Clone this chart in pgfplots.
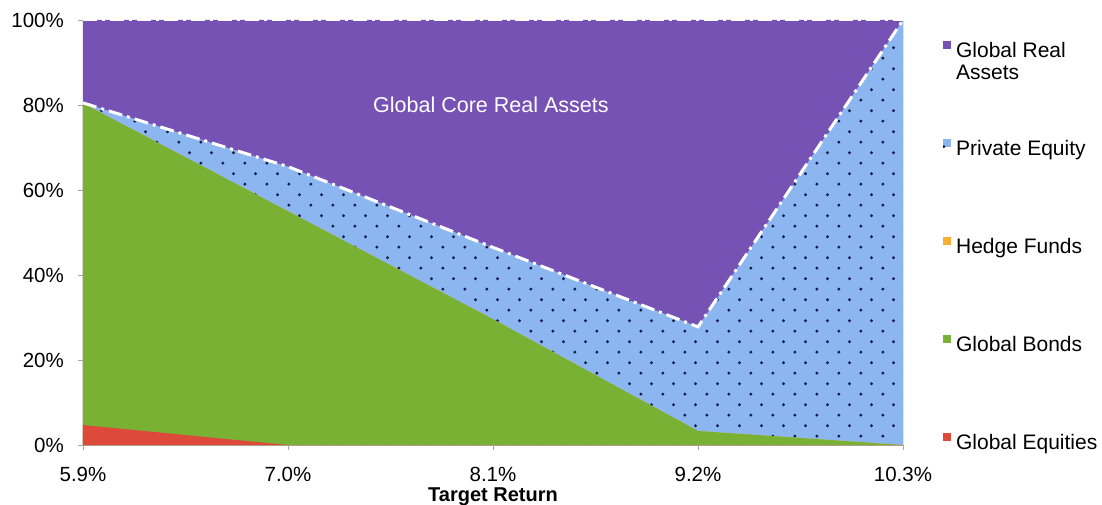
\documentclass[border=0pt]{standalone}
\usepackage{fontspec}
\setmainfont{Liberation Sans}
\usepackage{pgfplots}
\usepackage{pgfplotstable}
\pgfplotsset{compat=1.18}
\usetikzlibrary{patterns}
\pgfdeclarepatternformonly{pedots}{\pgfpointorigin}{\pgfpoint{21.6pt}{21.4pt}}{\pgfpoint{21.6pt}{21.4pt}}{%
  \pgfpathcircle{\pgfpoint{5pt}{5pt}}{1.7pt}%
  \pgfpathcircle{\pgfpoint{15.8pt}{15.7pt}}{1.7pt}%
  \pgfusepath{fill}%
}
\definecolor{rapurple}{RGB}{118,82,180}
\definecolor{peblue}{RGB}{140,182,240}
\definecolor{pedot}{RGB}{20,30,75}
\definecolor{hforange}{RGB}{250,175,50}
\definecolor{gbgreen}{RGB}{121,177,52}
\definecolor{gered}{RGB}{222,74,58}
% cumulative tops (%) of each band at each target return
\pgfplotstableread{
x ge gb hf pe ra
0 4.7 80.4 80.4 80.5 100
1 0   55.0 55.0 65.5 100
2 0   29.6 29.6 46.5 100
3 0   3.3  3.3  27.8 100
4 0   0    0    100  100
}\alloc
\begin{document}
\begin{tikzpicture}
\path[use as bounding box] (-83pt,-59pt) rectangle (1019pt,445pt);
\begin{axis}[
  at={(0pt,0pt)}, anchor=south west,
  scale only axis, width=820pt, height=425pt,
  xmin=0, xmax=4, ymin=0, ymax=100,
  clip=false,
  axis x line*=bottom, axis y line*=left,
  axis line style={gray!60, line width=0.8pt, -},
  tick style={gray!70, line width=0.8pt},
  tick align=outside, major tick length=5pt,
  xtick={0,1,2,3,4},
  xticklabels={5.9\%,7.0\%,8.1\%,9.2\%,10.3\%},
  ytick={0,20,40,60,80,100},
  yticklabel={\pgfmathprintnumber{\tick}\%},
  /pgf/number format/assume math mode=true,
  ticklabel style={font=\fontsize{20.5}{22}\selectfont},
  xticklabel style={anchor=base, yshift=-31pt, inner sep=0pt},
  yticklabel style={anchor=east, inner sep=0pt, xshift=-14pt},
  xlabel={\textbf{Target Return}},
  xlabel style={at={(axis description cs:0.5,0)}, anchor=base, yshift=-56pt, font=\fontsize{20}{22}\selectfont, inner sep=0pt},
  legend cell align=left,
  legend image code/.code={\path[#1,draw=none] (0pt,3pt) rectangle (8pt,11pt);},
  legend style={draw=none, fill=none, at={(axis description cs:1.045,0.955)}, anchor=north west,
    font=\fontsize{21}{22}\selectfont, row sep=77pt, column sep=5pt,
    nodes={inner sep=0pt, text height=15pt, text depth=5pt}},
]
\addplot[fill=rapurple, draw=none] table[x=x, y=ra] {\alloc} \closedcycle;
\addlegendentry{\smash{\begin{tabular}[t]{@{}l@{}}Global Real\\Assets\end{tabular}}}
\addplot[fill=peblue, draw=none, postaction={pattern=pedots, pattern color=pedot}] table[x=x, y=pe] {\alloc} \closedcycle;
\addlegendentry{Private Equity}
\addplot[fill=hforange, draw=none] table[x=x, y=hf] {\alloc} \closedcycle;
\addlegendentry{Hedge Funds}
\addplot[fill=gbgreen, draw=none] table[x=x, y=gb] {\alloc} \closedcycle;
\addlegendentry{Global Bonds}
\addplot[fill=gered, draw=none] table[x=x, y=ge] {\alloc} \closedcycle;
\addlegendentry{Global Equities}
% white dash-dot outline of the Global Real Assets band
\addplot[forget plot, draw=white, line width=3pt, dash pattern=on 14pt off 5pt on 3pt off 5pt] table[x=x, y=pe] {\alloc};
\addplot[forget plot, draw=white, line width=3pt, dash pattern=on 14pt off 5pt on 3pt off 5pt] table[x=x, y=ra] {\alloc};
\node[text=white, font=\fontsize{21.5}{23}\selectfont] at (axis cs:1.99,80) {Global Core Real Assets};
\end{axis}
\end{tikzpicture}
\end{document}
